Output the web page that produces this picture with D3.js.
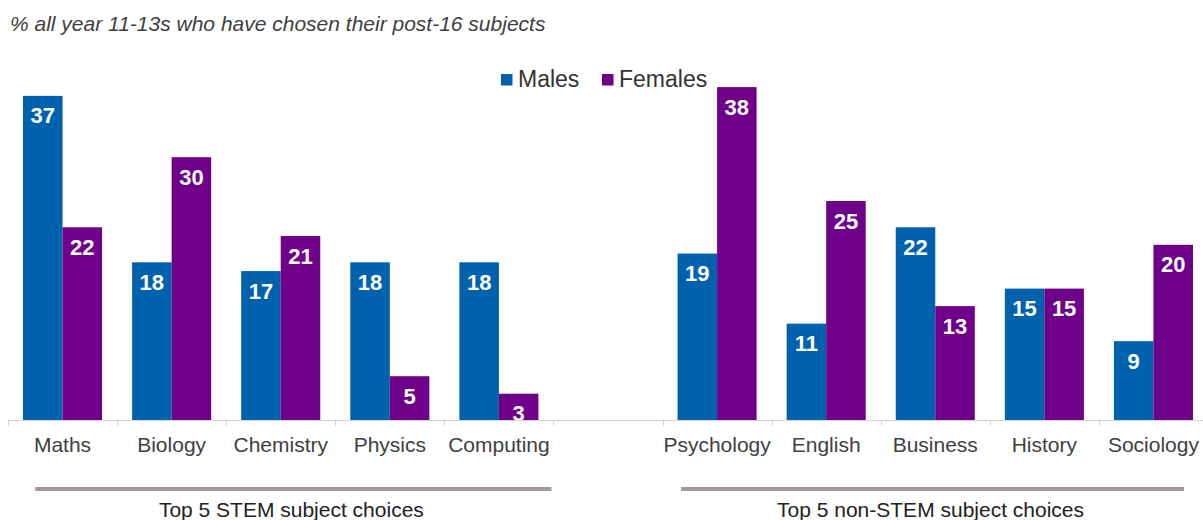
<!DOCTYPE html>
<html>
<head>
<meta charset="utf-8">
<script src="https://cdn.jsdelivr.net/npm/d3@7"></script>
<style>
  html, body { margin: 0; padding: 0; background: #ffffff; }
  svg { display: block; font-family: Arial, "Liberation Sans", Helvetica, sans-serif; }
</style>
</head>
<body>
<svg id="chart" width="1203" height="520"></svg>
<script>
// Subject choices by sex, % of year 11-13s
const stemSubjects = ["Maths", "Biology", "Chemistry", "Physics", "Computing"];
const nonStemSubjects = ["Psychology", "English", "Business", "History", "Sociology"];
const males   = [37, 18, 17, 18, 18, 19, 11, 22, 15, 9];
const females = [22, 30, 21, 5, 3, 38, 25, 13, 15, 20];
const seriesNames = ["Males", "Females"];
const groupLabels = ["Top 5 STEM subject choices", "Top 5 non-STEM subject choices"];
const titleText = "% all year 11-13s who have chosen their post-16 subjects";

const colors = { Males: "#0061ad", Females: "#6f0089" };
const GAP = "__gap__";
const subjects = stemSubjects.concat(nonStemSubjects);
const slots = stemSubjects.concat([GAP], nonStemSubjects);

const rows = subjects.map((s, i) => ({ subject: s, Males: males[i], Females: females[i] }));

const svg = d3.select("#chart");
const baseY = 420;

const x = d3.scaleBand().domain(slots).range([8, 1208]).padding(0);
const xSub = d3.scaleBand().domain(seriesNames).range([0, x.bandwidth()])
  .paddingInner(0).paddingOuter(0.38);
const y = d3.scaleLinear().domain([0, 40]).range([baseY, 69.6]);

// title
svg.append("text")
  .attr("x", 10).attr("y", 31)
  .attr("font-size", 21).attr("font-style", "italic")
  .attr("fill", "#404040")
  .text(titleText);

// bars
const groups = svg.append("g").selectAll("g")
  .data(rows).join("g")
  .attr("transform", d => `translate(${x(d.subject)},0)`);

groups.selectAll("rect")
  .data(d => seriesNames.map(k => ({ key: k, value: d[k] })))
  .join("rect")
  .attr("x", d => xSub(d.key))
  .attr("width", xSub.bandwidth())
  .attr("y", d => y(d.value))
  .attr("height", d => y(0) - y(d.value))
  .attr("fill", d => colors[d.key]);

groups.selectAll("text.val")
  .data(d => seriesNames.map(k => ({ key: k, value: d[k] })))
  .join("text")
  .attr("class", "val")
  .attr("x", d => xSub(d.key) + xSub.bandwidth() / 2)
  .attr("y", d => y(d.value) + 27.5)
  .attr("text-anchor", "middle")
  .attr("font-size", 22).attr("font-weight", "bold")
  .attr("fill", "#ffffff")
  .text(d => d.value);

// category axis: baseline with ticks at slot boundaries
const axis = svg.append("g");
axis.append("line")
  .attr("x1", x.range()[0]).attr("x2", 1203)
  .attr("y1", baseY + 0.5).attr("y2", baseY + 0.5)
  .attr("stroke", "#d4d4d4").attr("stroke-width", 1);
const boundaries = slots.map(s => x(s)).concat([x.range()[1]]);
axis.selectAll("line.tick")
  .data(boundaries).join("line")
  .attr("class", "tick")
  .attr("x1", d => Math.round(d) + 0.5).attr("x2", d => Math.round(d) + 0.5)
  .attr("y1", baseY).attr("y2", baseY + 6)
  .attr("stroke", "#d4d4d4").attr("stroke-width", 1);
axis.selectAll("text")
  .data(subjects).join("text")
  .attr("x", d => x(d) + x.bandwidth() / 2)
  .attr("y", 452)
  .attr("text-anchor", "middle")
  .attr("font-size", 21)
  .attr("fill", "#404040")
  .text(d => d);

// legend
const legend = svg.append("g");
const legendItems = [{ key: "Males", x: 501 }, { key: "Females", x: 602 }];
legendItems.forEach(it => {
  legend.append("rect")
    .attr("x", it.x).attr("y", 74)
    .attr("width", 11.5).attr("height", 11.5)
    .attr("fill", colors[it.key]);
  legend.append("text")
    .attr("x", it.x + 17).attr("y", 87)
    .attr("font-size", 23)
    .attr("fill", "#333333")
    .text(it.key);
});

// group brackets
const step = x.step();
const groupSpans = [
  { label: groupLabels[0], x1: x(stemSubjects[0]) + 0.25 * step, x2: x(stemSubjects[4]) + step - 2 },
  { label: groupLabels[1], x1: x(nonStemSubjects[0]) + 0.17 * step, x2: x(nonStemSubjects[4]) + step - 24 }
];
const gb = svg.append("g");
gb.selectAll("line")
  .data(groupSpans).join("line")
  .attr("x1", d => d.x1).attr("x2", d => d.x2)
  .attr("y1", 489).attr("y2", 489)
  .attr("stroke", "#a39999").attr("stroke-width", 4);
gb.selectAll("text")
  .data(groupSpans).join("text")
  .attr("x", d => (d.x1 + d.x2) / 2 - 2)
  .attr("y", 517)
  .attr("text-anchor", "middle")
  .attr("font-size", 21)
  .attr("fill", "#222222")
  .text(d => d.label);
</script>
</body>
</html>
